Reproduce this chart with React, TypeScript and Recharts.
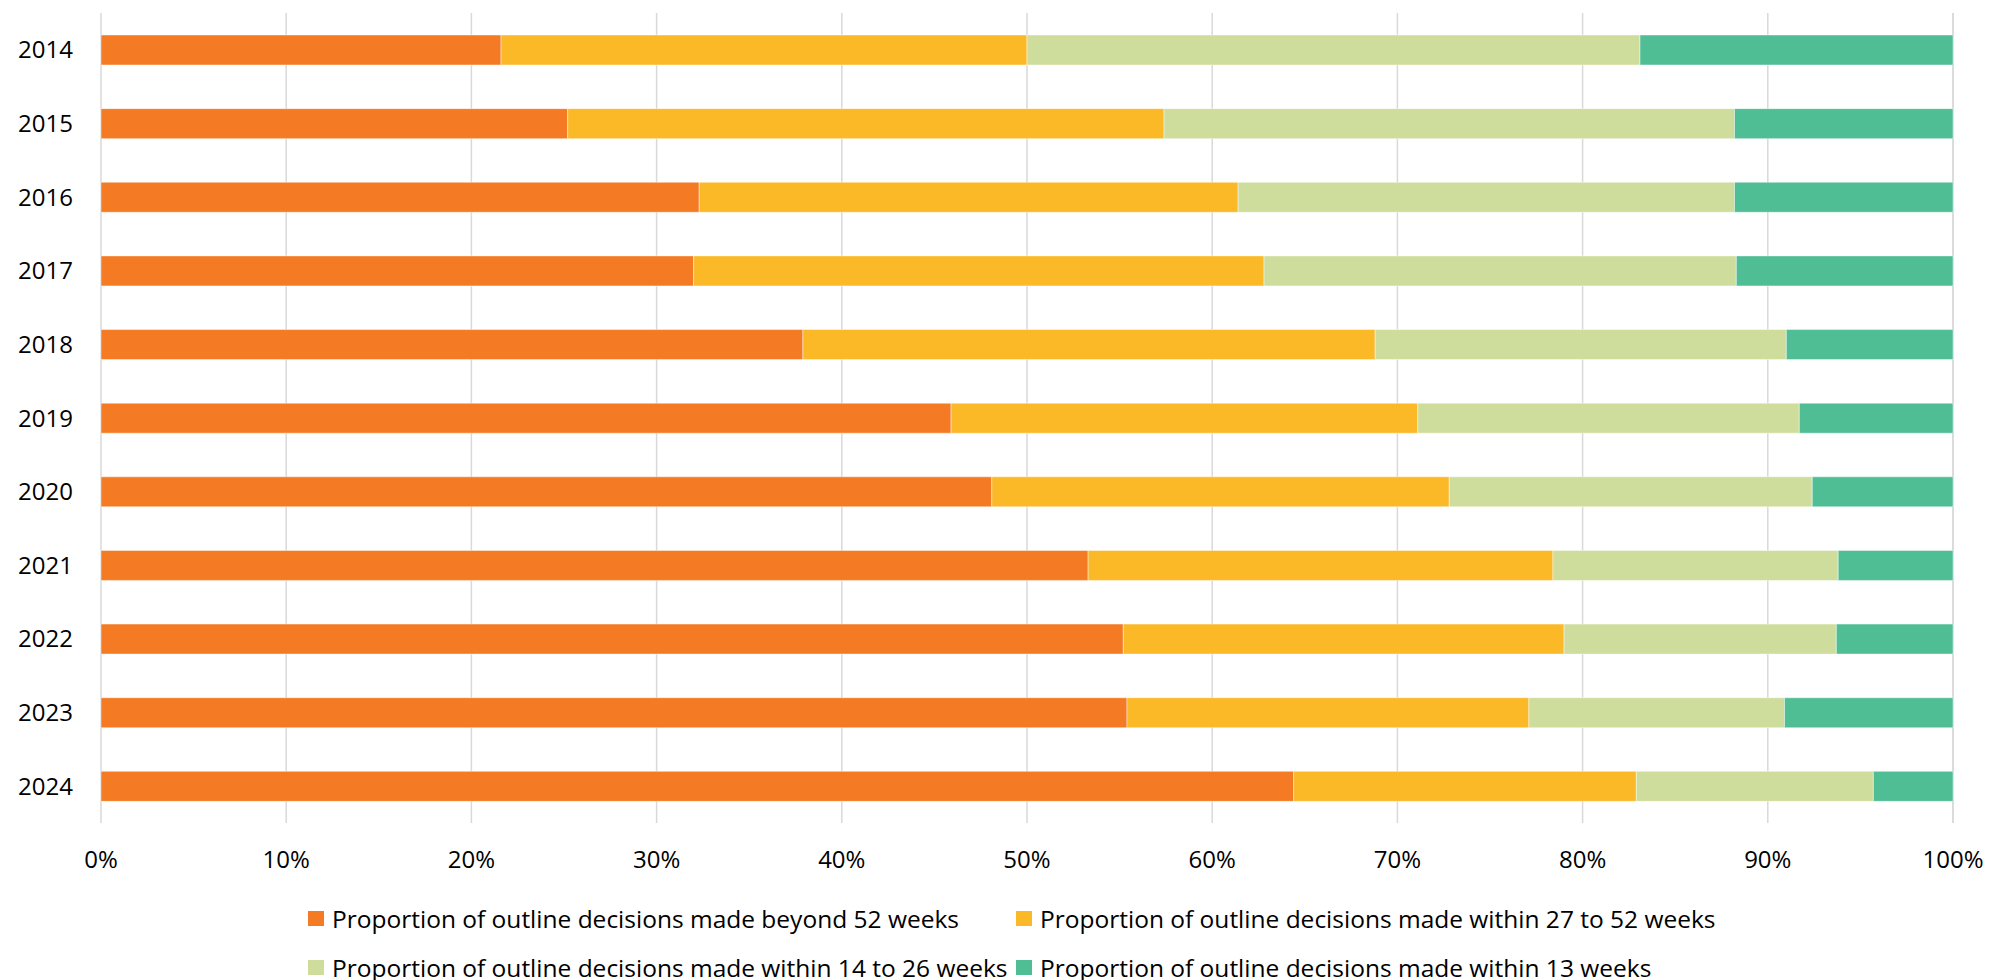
import { BarChart, Bar, XAxis, YAxis, CartesianGrid } from 'recharts';

const years = ['2014', '2015', '2016', '2017', '2018', '2019', '2020', '2021', '2022', '2023', '2024'];

const beyond52 = [21.6, 25.2, 32.3, 32.0, 37.9, 45.9, 48.1, 53.3, 55.2, 55.4, 64.4];
const within27to52 = [28.4, 32.2, 29.1, 30.8, 30.9, 25.2, 24.7, 25.1, 23.8, 21.7, 18.5];
const within14to26 = [33.1, 30.8, 26.8, 25.5, 22.2, 20.6, 19.6, 15.4, 14.7, 13.8, 12.8];
const within13 = [16.9, 11.8, 11.8, 11.7, 9.0, 8.3, 7.6, 6.2, 6.3, 9.1, 4.3];

const xTicks = [0, 10, 20, 30, 40, 50, 60, 70, 80, 90, 100];

const SERIES = [
    { key: 'beyond52', name: 'Proportion of outline decisions made beyond 52 weeks', color: '#F47B24' },
    { key: 'within27to52', name: 'Proportion of outline decisions made within 27 to 52 weeks', color: '#FBB827' },
    { key: 'within14to26', name: 'Proportion of outline decisions made within 14 to 26 weeks', color: '#CEDD9B' },
    { key: 'within13', name: 'Proportion of outline decisions made within 13 weeks', color: '#50BE94' },
];

const data = years.map((year, i) => ({
    year,
    beyond52: beyond52[i],
    within27to52: within27to52[i],
    within14to26: within14to26[i],
    within13: within13[i],
}));

const FONT = "'Open Sans', sans-serif";
const tickStyle = { fill: '#000', fontSize: 24, fontFamily: FONT };

// legend laid out as Excel does: two columns, two rows
const LEGEND_COLS = [308, 1016];
const LEGEND_ROWS = [918, 967];

function ChartLegend() {
    return (
        <>
            {SERIES.map((s, i) => (
                <div
                    key={s.key}
                    style={{
                        position: 'absolute',
                        left: LEGEND_COLS[i % 2],
                        top: LEGEND_ROWS[Math.floor(i / 2)] - 17,
                        height: 34,
                        display: 'flex',
                        alignItems: 'center',
                        whiteSpace: 'nowrap',
                        fontFamily: FONT,
                        fontSize: 24.5,
                        color: '#000',
                    }}
                >
                    <span style={{ display: 'inline-block', width: 16, height: 15, background: s.color, marginRight: 8 }} />
                    {s.name}
                </div>
            ))}
        </>
    );
}

export default function App() {
    return (
        <div style={{ position: 'absolute', left: 0, top: 0, width: 1989, height: 980, background: '#fff' }}>
            <BarChart
                width={1989}
                height={980}
                data={data}
                layout="vertical"
                margin={{ top: 13, right: 36, bottom: 0, left: 0 }}
            >
                <CartesianGrid horizontal={false} stroke="#d9d9d9" strokeWidth={1.5} />
                <XAxis
                    type="number"
                    domain={[0, 100]}
                    ticks={xTicks}
                    tickFormatter={(v) => `${v}%`}
                    axisLine={false}
                    tickLine={false}
                    tickSize={0}
                    tickMargin={28}
                    height={157}
                    tick={tickStyle}
                    interval={0}
                />
                <YAxis
                    type="category"
                    dataKey="year"
                    width={101}
                    axisLine={false}
                    tickLine={false}
                    tickSize={0}
                    tickMargin={28}
                    tick={tickStyle}
                    interval={0}
                />
                {SERIES.map((s) => (
                    <Bar
                        key={s.key}
                        dataKey={s.key}
                        name={s.name}
                        stackId="a"
                        fill={s.color}
                        stroke="#ffffff"
                        strokeWidth={0.75}
                        strokeOpacity={0.6}
                        barSize={30}
                        isAnimationActive={false}
                    />
                ))}
            </BarChart>
            <ChartLegend />
        </div>
    );
}
